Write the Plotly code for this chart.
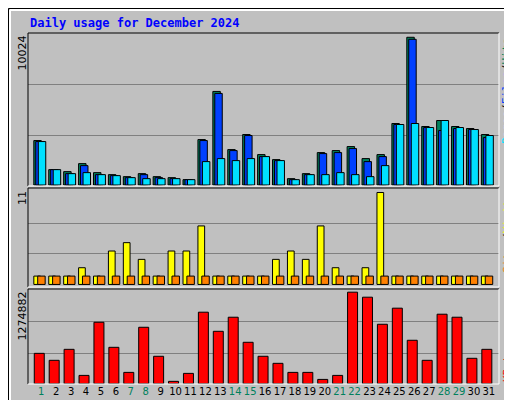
import plotly.graph_objects as go

days = list(range(1, 32))
hits = [3016,1043,907,1451,839,703,567,771,567,499,363,3084,6350,2404,3425,2064,1724,431,771,2200,2336,2608,1792,2064,4173,10024,3969,4377,3969,3833,3425]
files = [2948,1043,771,1315,703,635,499,703,499,431,363,3016,6214,2336,3357,1928,1656,363,703,2132,2200,2472,1588,1928,4105,9888,3901,3697,3833,3765,3220]
pages = [2948,1043,771,839,703,635,499,431,431,431,363,1588,1792,1656,1792,1928,1656,363,703,703,839,703,567,1315,4105,4173,3901,4377,3901,3765,3357]
visits = [1,1,1,2,1,4,5,3,1,4,4,7,1,1,1,1,3,4,3,7,2,1,2,11,1,1,1,1,1,1,1]
sites = [1]*31
kbytes = [423000,326000,479000,116000,856000,507000,158000,786000,382000,33000,144000,996000,730000,926000,577000,382000,284000,158000,158000,60000,116000,1274882,1205000,828000,1052000,605000,326000,968000,926000,354000,479000]
weekend = [1,7,8,14,15,21,22,28,29]
title = "Daily usage for December 2024"

W, H = 512, 400
L, R, T, B = 20, 21, 25, 24
PW, PH = W - L - R, H - T - B
def px(x): return (x - L) / PW
def py(y): return (H - B - y) / PH

fig = go.Figure()
bar = dict(marker_line_color="black", marker_line_width=1)
fig.add_bar(x=days, y=hits, offset=-0.5, width=0.5, marker_color="#00805c", yaxis="y", **bar)
fig.add_bar(x=days, y=files, offset=-0.37, width=0.5, marker_color="#0040ff", yaxis="y", **bar)
fig.add_bar(x=days, y=pages, offset=-0.2, width=0.5, marker_color="#00e0ff", yaxis="y", **bar)
fig.add_bar(x=days, y=visits, offset=-0.5, width=0.45, marker_color="#ffff00", yaxis="y2", **bar)
fig.add_bar(x=days, y=sites, offset=-0.24, width=0.5, marker_color="#ff8000", yaxis="y2", **bar)
fig.add_bar(x=days, y=kbytes, offset=-0.47, width=0.67, marker_color="#ff0000", yaxis="y3", **bar)

ticktext = [f"<span style='color:{'#00805c' if d in weekend else 'black'}'>{d}</span>" for d in days]
ax = dict(showline=False, zeroline=False, showticklabels=False, gridcolor="#808080", gridwidth=1, automargin=False)
hmax, vmax, kmax = max(hits), max(visits), max(kbytes)
fig.update_layout(
    width=W, height=H, barmode="overlay", showlegend=False,
    paper_bgcolor="#c0c0c0", plot_bgcolor="#c0c0c0",
    margin=dict(l=L, r=R, t=T, b=B, autoexpand=False),
    font=dict(family="DejaVu Sans Mono", size=11, color="black"),
    xaxis=dict(range=[0.11, 31.68], tickvals=days, ticktext=ticktext, showgrid=False,
               zeroline=False, ticks="", anchor="y3", tickangle=0, automargin=False,
               tickfont=dict(family="DejaVu Sans", size=10)),
    yaxis=dict(domain=[0.564, 1], range=[-hmax*0.007, hmax*1.029], tickvals=[hmax/3, hmax*0.68], **ax),
    yaxis2=dict(domain=[0.276, 0.558], range=[-0.32, 11.52], tickvals=[vmax/3, vmax*2/3], **ax),
    yaxis3=dict(domain=[0, 0.271], range=[-kmax*0.003, kmax*1.036], tickvals=[kmax/3, kmax*0.683], **ax),
)
sh = []
def line(x0, y0, x1, y1, c, w=1):
    sh.append(dict(type="line", xref="paper", yref="paper", x0=px(x0), y0=py(y0), x1=px(x1), y1=py(y1),
                   line=dict(color=c, width=w)))
line(0.5, 0.5, 511.5, 0.5, "black"); line(0.5, 0.5, 0.5, 399.5, "black")
line(511.5, 0.5, 511.5, 399.5, "black"); line(0.5, 399.5, 511.5, 399.5, "black")
line(2, 2, 509, 2, "white", 2); line(2, 2, 2, 397, "white", 2)
line(509, 2, 509, 397, "#808080", 2); line(2, 397, 509, 397, "#808080", 2)
for (y0, y1) in [(25, 178), (180, 279), (281, 376)]:
    line(L, y0, 491, y0, "black"); line(L, y0, L, y1, "black")
    line(491, y0, 491, y1, "white"); line(L, y1, 491, y1, "white")
fig.update_layout(shapes=sh)

ann = [
    dict(x=px(20), y=py(15), text=f"<b>{title}</b>", xanchor="left", yanchor="middle",
         font=dict(color="#0000ff", size=12, family="DejaVu Sans Mono")),
    dict(x=px(14), y=py(26), text=str(hmax), textangle=-90, xanchor="center", yanchor="top",
         font=dict(size=11, family="DejaVu Sans")),
    dict(x=px(14), y=py(181), text=str(vmax), textangle=-90, xanchor="center", yanchor="top",
         font=dict(size=11, family="DejaVu Sans")),
    dict(x=px(14), y=py(282), text=str(kmax), textangle=-90, xanchor="center", yanchor="top",
         font=dict(size=11, family="DejaVu Sans")),
    dict(x=px(499), y=py(28), textangle=-90, xanchor="center", yanchor="top",
         text="<span style='color:#00e0ff'>Pages</span>/<span style='color:#0040ff'>Files</span>/<span style='color:#00805c'>Hits</span>",
         font=dict(size=11, family="DejaVu Sans Mono")),
    dict(x=px(499), y=py(183), textangle=-90, xanchor="center", yanchor="top",
         text="<span style='color:#ff8000'>Sites</span>/<span style='color:#ffff00'>Visits</span>",
         font=dict(size=11, family="DejaVu Sans Mono")),
    dict(x=px(499), y=py(376), textangle=-90, xanchor="center", yanchor="bottom",
         text="<span style='color:#ff0000'>KBytes</span>",
         font=dict(size=11, family="DejaVu Sans Mono")),
]
for a in ann:
    a.update(xref="paper", yref="paper", showarrow=False)
fig.update_layout(annotations=ann)
fig.write_html("out.html")
